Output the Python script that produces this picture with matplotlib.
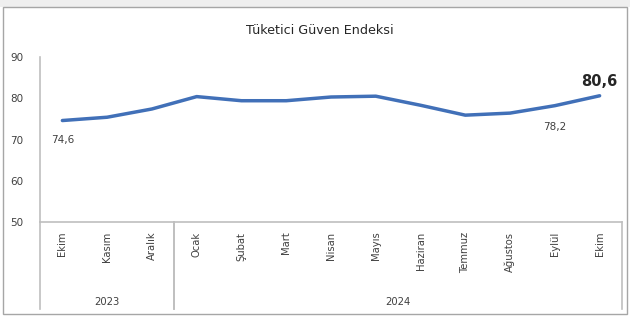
import matplotlib.pyplot as plt
from matplotlib.patches import Rectangle
import matplotlib.transforms as mtransforms

# Data
months = ['Ekim', 'Kasım', 'Aralık', 'Ocak', 'Şubat', 'Mart', 'Nisan',
          'Mayıs', 'Haziran', 'Temmuz', 'Ağustos', 'Eylül', 'Ekim']
values = [74.6, 75.4, 77.4, 80.4, 79.4, 79.4, 80.3, 80.5, 78.3, 75.9, 76.4, 78.2, 80.6]
years = ['2023', '2024']
year_spans = [(0, 3), (3, 13)]   # month index ranges per year
yticks = [50, 60, 70, 80, 90]

W, H = 630, 316
fig = plt.figure(figsize=(W / 100, H / 100), dpi=100)
fig.patch.set_facecolor('white')

# Outer frame + grey top strip
fig.patches.append(Rectangle((0, 1 - 7 / H), 1, 7 / H, transform=fig.transFigure,
                             facecolor='#efefef', edgecolor='none'))
fig.patches.append(Rectangle((3 / W, 2 / H), 624 / W, (307) / H, transform=fig.transFigure,
                             facecolor='none', edgecolor='#a6a6a6', linewidth=1))

ax = fig.add_axes([40 / W, (H - 222) / H, 582 / W, 165 / H])
x = list(range(len(values)))
ax.plot(x, values, color='#4170b8', linewidth=2.5, solid_capstyle='round',
        solid_joinstyle='round')

ax.set_xlim(-0.5, len(values) - 0.5)
ax.set_ylim(50, 90)
ax.set_yticks(yticks)
ax.set_xticks(x)
ax.set_xticklabels(months, rotation=90, fontsize=7.2, color='#404040', va='top')
ax.tick_params(axis='x', length=0, pad=7)
ax.tick_params(axis='y', length=0, pad=12, labelsize=7.5, labelcolor='#404040')

for s in ['top', 'right']:
    ax.spines[s].set_visible(False)
for s in ['left', 'bottom']:
    ax.spines[s].set_color('#bfbfbf')
    ax.spines[s].set_linewidth(1.2)

# Year group separators and labels
trans = mtransforms.blended_transform_factory(ax.transData, ax.transAxes)
for (a, b), yr in zip(year_spans, years):
    for edge in (a - 0.5, b - 0.5):
        ax.plot([edge, edge], [0, -0.53], transform=trans, color='#bfbfbf',
                linewidth=1.2, clip_on=False)
    ax.text((a + b - 1) / 2, -0.485, yr, transform=trans, ha='center', va='center',
            fontsize=7.2, color='#404040')

# Data labels
ax.annotate('74,6', (0, values[0]), xytext=(0, -14), textcoords='offset points',
            ha='center', va='center', fontsize=7.5, color='#404040')
ax.annotate('78,2', (11, values[11]), xytext=(0, -15), textcoords='offset points',
            ha='center', va='center', fontsize=7.5, color='#404040')
ax.annotate('80,6', (12, values[12]), xytext=(0, 10), textcoords='offset points',
            ha='center', va='center', fontsize=10.5, fontweight='bold', color='#262626')

fig.text(320 / W, 1 - 30 / H, 'Tüketici Güven Endeksi', ha='center', va='center',
         fontsize=9.2, color='#262626')

fig.savefig('out.png', dpi=100, facecolor='white')
